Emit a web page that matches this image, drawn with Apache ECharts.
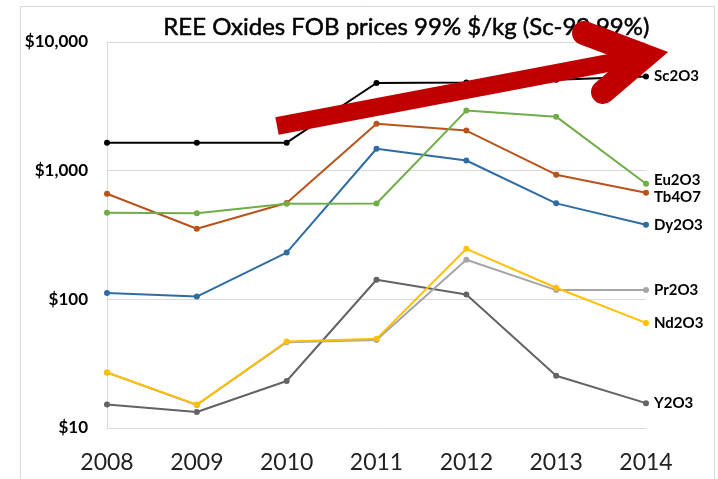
<!DOCTYPE html>
<html>
<head>
<meta charset="utf-8">
<script src="https://cdn.jsdelivr.net/npm/echarts@6/dist/echarts.min.js"></script>
<style>
  html, body { margin: 0; padding: 0; background: #fff; }
  #main { width: 718px; height: 479px; }
</style>
</head>
<body>
<div id="main"></div>
<script>
var years = ['2008', '2009', '2010', '2011', '2012', '2013', '2014']
var sc2o3 = [1650, 1650, 1650, 4800, 4850, 5100, 5400]
var eu2o3 = [471, 466, 553, 555, 2930, 2630, 792]
var tb4o7 = [662, 354, 561, 2320, 2050, 930, 674]
var dy2o3 = [112, 105, 231, 1480, 1200, 557, 380]
var pr2o3 = [27, 15.1, 46.4, 48.4, 203, 118, 118]
var nd2o3 = [27, 15.2, 47, 49.3, 247, 123, 65.6]
var y2o3 = [15.2, 13.3, 23.2, 142, 109, 25.5, 15.6]

var chart = echarts.init(document.getElementById('main'))

// 每条线的通用样式
function makeLine(name, data, color, offset) {
    return {
        name: name,
        type: 'line',
        data: data,
        symbol: 'circle',
        symbolSize: 6,
        lineStyle: { color: color, width: 2 },
        itemStyle: { color: color },
        endLabel: {
            show: true,
            formatter: '{a}',
            color: '#000',
            fontFamily: 'Lato',
            fontWeight: 'bold',
            fontSize: 15,
            distance: 8,
            offset: offset || [0, 0]
        }
    }
}

var option = {
    animation: false,
    grid: { left: 107, right: 72, top: 42, bottom: 51 },
    xAxis: {
        type: 'category',
        data: years,
        boundaryGap: false,
        axisLine: { show: true, lineStyle: { color: '#d9d9d9' } },
        axisTick: { show: false },
        axisLabel: { fontFamily: 'Lato', fontSize: 23, color: '#222', margin: 23 }
    },
    yAxis: {
        type: 'log',
        logBase: 10,
        min: 10,
        max: 10000,
        axisLine: { show: true, lineStyle: { color: '#d9d9d9' } },
        axisTick: { show: false },
        splitLine: { lineStyle: { color: '#d9d9d9' } },
        axisLabel: {
            fontFamily: 'Lato', fontWeight: 'bold', fontSize: 17, color: '#000', margin: 19,
            formatter: function (v) { return '$' + Math.round(v).toLocaleString('en-US') }
        }
    },
    series: [
        makeLine('Y2O3', y2o3, '#636363'),
        makeLine('Pr2O3', pr2o3, '#a5a5a5'),
        makeLine('Nd2O3', nd2o3, '#ffc000'),
        makeLine('Dy2O3', dy2o3, '#2e6da4'),
        makeLine('Tb4O7', tb4o7, '#b9531a', [0, 4]),
        makeLine('Eu2O3', eu2o3, '#70ad47', [0, -4]),
        makeLine('Sc2O3', sc2o3, '#000000')
    ],
    graphic: [
        {
            type: 'rect', z: 0, silent: true,
            shape: { x: 20.5, y: 6.5, width: 694, height: 480 },
            style: { fill: 'none', stroke: '#d9d9d9', lineWidth: 1 }
        },
        {
            type: 'text', left: 163, top: 15, z: 5,
            style: {
                text: 'REE Oxides FOB prices 99% $/kg (Sc-99.99%)', fontFamily: 'Lato', fontSize: 24,
                fill: '#000', stroke: '#000', lineWidth: 0.5
            }
        },
        // 红色箭头
        {
            type: 'polyline', z: 10, silent: true,
            shape: { points: [[277, 126], [640, 57]] },
            style: { stroke: '#c00000', lineWidth: 18, lineCap: 'butt', fill: 'none' }
        },
        {
            type: 'polyline', z: 10, silent: true,
            shape: { points: [[584, 33], [645, 56], [603, 92]] },
            style: { stroke: '#c00000', lineWidth: 24, lineCap: 'round', lineJoin: 'miter', fill: 'none' }
        }
    ]
}

chart.setOption(option)
</script>
</body>
</html>
